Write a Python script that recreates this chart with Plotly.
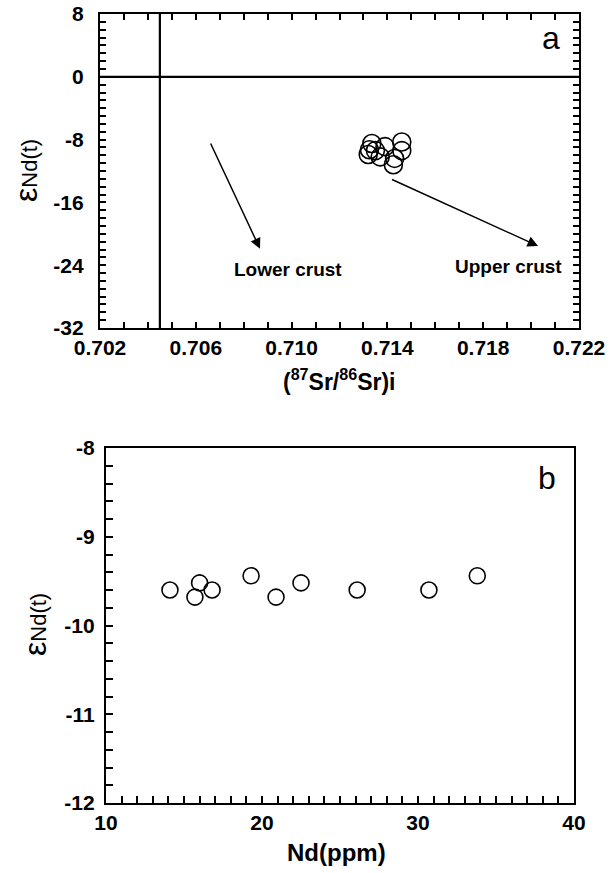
import plotly.graph_objects as go

# Panel a data: (87Sr/86Sr)i vs eNd(t)
sr_i = [0.71335, 0.71325, 0.7135, 0.7132, 0.7137, 0.7139, 0.7146, 0.7146, 0.71425, 0.7143]
end_a = [-8.5, -9.3, -9.4, -9.9, -10.2, -8.9, -8.3, -9.4, -11.2, -10.4]

# Panel b data: Nd(ppm) vs eNd(t)
nd_ppm = [14.1, 15.7, 16.0, 16.8, 19.3, 20.9, 22.5, 26.1, 30.7, 33.8]
end_b = [-9.6, -9.68, -9.52, -9.6, -9.44, -9.68, -9.52, -9.6, -9.6, -9.44]

# Reference lines and arrows (panel a)
bse_sr = 0.7045
chur_end = 0.0
lower_arrow = [0.70659, -8.3, 0.70868, -21.9]
upper_arrow = [0.71413, -13.0, 0.72029, -21.55]
lower_label = ["Lower crust", 0.70985, -24.6]
upper_label = ["Upper crust", 0.71904, -24.2]

# axis ticks: range, labelled tick values, labels, minor step
xa_range, xa_ticks, xa_labels, xa_minor = [0.702, 0.722], [0.702, 0.706, 0.710, 0.714, 0.718, 0.722], \
    ["0.702", "0.706", "0.710", "0.714", "0.718", "0.722"], 0.001
ya_range, ya_ticks, ya_labels, ya_minor = [-32, 8], [8, 0, -8, -16, -24, -32], \
    ["8", "0", "-8", "-16", "-24", "-32"], 1
xb_range, xb_ticks, xb_labels, xb_minor = [10, 40], [10, 20, 30, 40], ["10", "20", "30", "40"], 1
yb_range, yb_ticks, yb_labels, yb_minor = [-12, -8], [-8, -9, -10, -11, -12], \
    ["-8", "-9", "-10", "-11", "-12"], 0.2

FONT = "Arial, Liberation Sans, sans-serif"
W, H = 611, 873

fig = go.Figure()
fig.add_trace(go.Scatter(x=sr_i, y=end_a, mode="markers", xaxis="x", yaxis="y",
                         marker=dict(symbol="circle-open", size=18, color="black",
                                     line=dict(width=1.6, color="black")),
                         showlegend=False))
fig.add_trace(go.Scatter(x=nd_ppm, y=end_b, mode="markers", xaxis="x2", yaxis="y2",
                         marker=dict(symbol="circle-open", size=16, color="black",
                                     line=dict(width=1.6, color="black")),
                         showlegend=False))

tickfont = dict(family=FONT, size=21, color="black", weight="bold")


def minor_vals(rng, step):
    n = int(round((rng[1] - rng[0]) / step))
    return [round(rng[0] + i * step, 6) for i in range(n + 1)]


def main_axis(domain, rng, ticks, labels, minor, anchor, mirror, minor_len, standoff=None):
    vals = minor_vals(rng, minor)
    lab = {round(v, 6): t for v, t in zip(ticks, labels)}
    text = [lab.get(round(v, 6), "") for v in vals]
    d = dict(domain=domain, range=rng, tickmode="array", tickvals=vals, ticktext=text,
             showline=True, linewidth=2.4, linecolor="black", mirror=mirror,
             ticks="inside", ticklen=minor_len, tickwidth=2, tickcolor="black",
             ticklabelposition="outside",
             showgrid=False, zeroline=False, anchor=anchor, tickfont=tickfont,
             automargin=False)
    if standoff is not None:
        d["ticklabelstandoff"] = standoff
    return d


def major_axis(domain, rng, ticks, overlay, anchor, mirror, side, major_len):
    return dict(domain=domain, range=rng, tickmode="array", tickvals=ticks,
                showticklabels=False, overlaying=overlay, anchor=anchor, side=side,
                showline=False, mirror=mirror, ticks="inside", ticklen=major_len,
                tickwidth=2, tickcolor="black", showgrid=False, zeroline=False,
                automargin=False)


dxa = [100 / W, 579 / W]
dya = [1 - 328 / H, 1 - 14 / H]
dxb = [106 / W, 574 / W]
dyb = [1 - 803 / H, 1 - 448 / H]

fig.update_layout(
    width=W, height=H, margin=dict(l=0, r=0, t=0, b=0, autoexpand=False),
    plot_bgcolor="rgba(0,0,0,0)", paper_bgcolor="white",
    xaxis=main_axis(dxa, xa_range, xa_ticks, xa_labels, xa_minor, "y", "ticks", 6),
    yaxis=main_axis(dya, ya_range, ya_ticks, ya_labels, ya_minor, "x", "ticks", 6, standoff=10),
    xaxis2=main_axis(dxb, xb_range, xb_ticks, xb_labels, xb_minor, "y2", True, 7),
    yaxis2=main_axis(dyb, yb_range, yb_ticks, yb_labels, yb_minor, "x2", True, 7, standoff=5),
    xaxis3=major_axis(dxa, xa_range, xa_ticks, "x", "y", "ticks", "bottom", 10),
    yaxis3=major_axis(dya, ya_range, ya_ticks, "y", "x", "ticks", "left", 12),
    xaxis4=major_axis(dxb, xb_range, xb_ticks, "x2", "y2", False, "bottom", 13),
    yaxis4=major_axis(dyb, yb_range, yb_ticks, "y2", "x2", False, "left", 13),
    font=dict(family=FONT, color="black"),
)

# reference lines
fig.add_shape(type="line", xref="x", yref="y", x0=bse_sr, x1=bse_sr, y0=-32, y1=8,
              line=dict(color="black", width=2.2))
fig.add_shape(type="line", xref="x", yref="y", x0=0.702, x1=0.722, y0=chur_end, y1=chur_end,
              line=dict(color="black", width=2.2))

# arrows
for a in (lower_arrow, upper_arrow):
    fig.add_annotation(x=a[2], y=a[3], ax=a[0], ay=a[1], xref="x", yref="y", axref="x", ayref="y",
                       text="", showarrow=True, arrowhead=2, arrowsize=1.4, arrowwidth=1.5,
                       arrowcolor="black")
for lab in (lower_label, upper_label):
    fig.add_annotation(x=lab[1], y=lab[2], xref="x", yref="y", text=lab[0], showarrow=False,
                       xanchor="center", yanchor="middle",
                       font=dict(family=FONT, size=19, color="black", weight="bold"))


def paper_text(px, py, text, size, bold=False, angle=0):
    f = dict(family=FONT, size=size, color="black")
    if bold:
        f["weight"] = "bold"
    fig.add_annotation(x=px / W, y=1 - py / H, xref="paper", yref="paper", text=text,
                       showarrow=False, xanchor="center", yanchor="middle", textangle=angle,
                       font=f)


# panel labels
paper_text(551, 38, "a", 32)
paper_text(547, 478, "b", 32)

# axis titles
eps = "<span style='font-size:32px'>ε</span>Nd(t)"
paper_text(26, 171, eps, 22, angle=-90)
paper_text(35, 625, eps, 22, angle=-90)
paper_text(339, 380, "(<sup>87</sup>Sr/<sup>86</sup>Sr)i", 23, bold=True)
paper_text(336, 852, "Nd(ppm)", 24, bold=True)

fig.write_html("out.html")
